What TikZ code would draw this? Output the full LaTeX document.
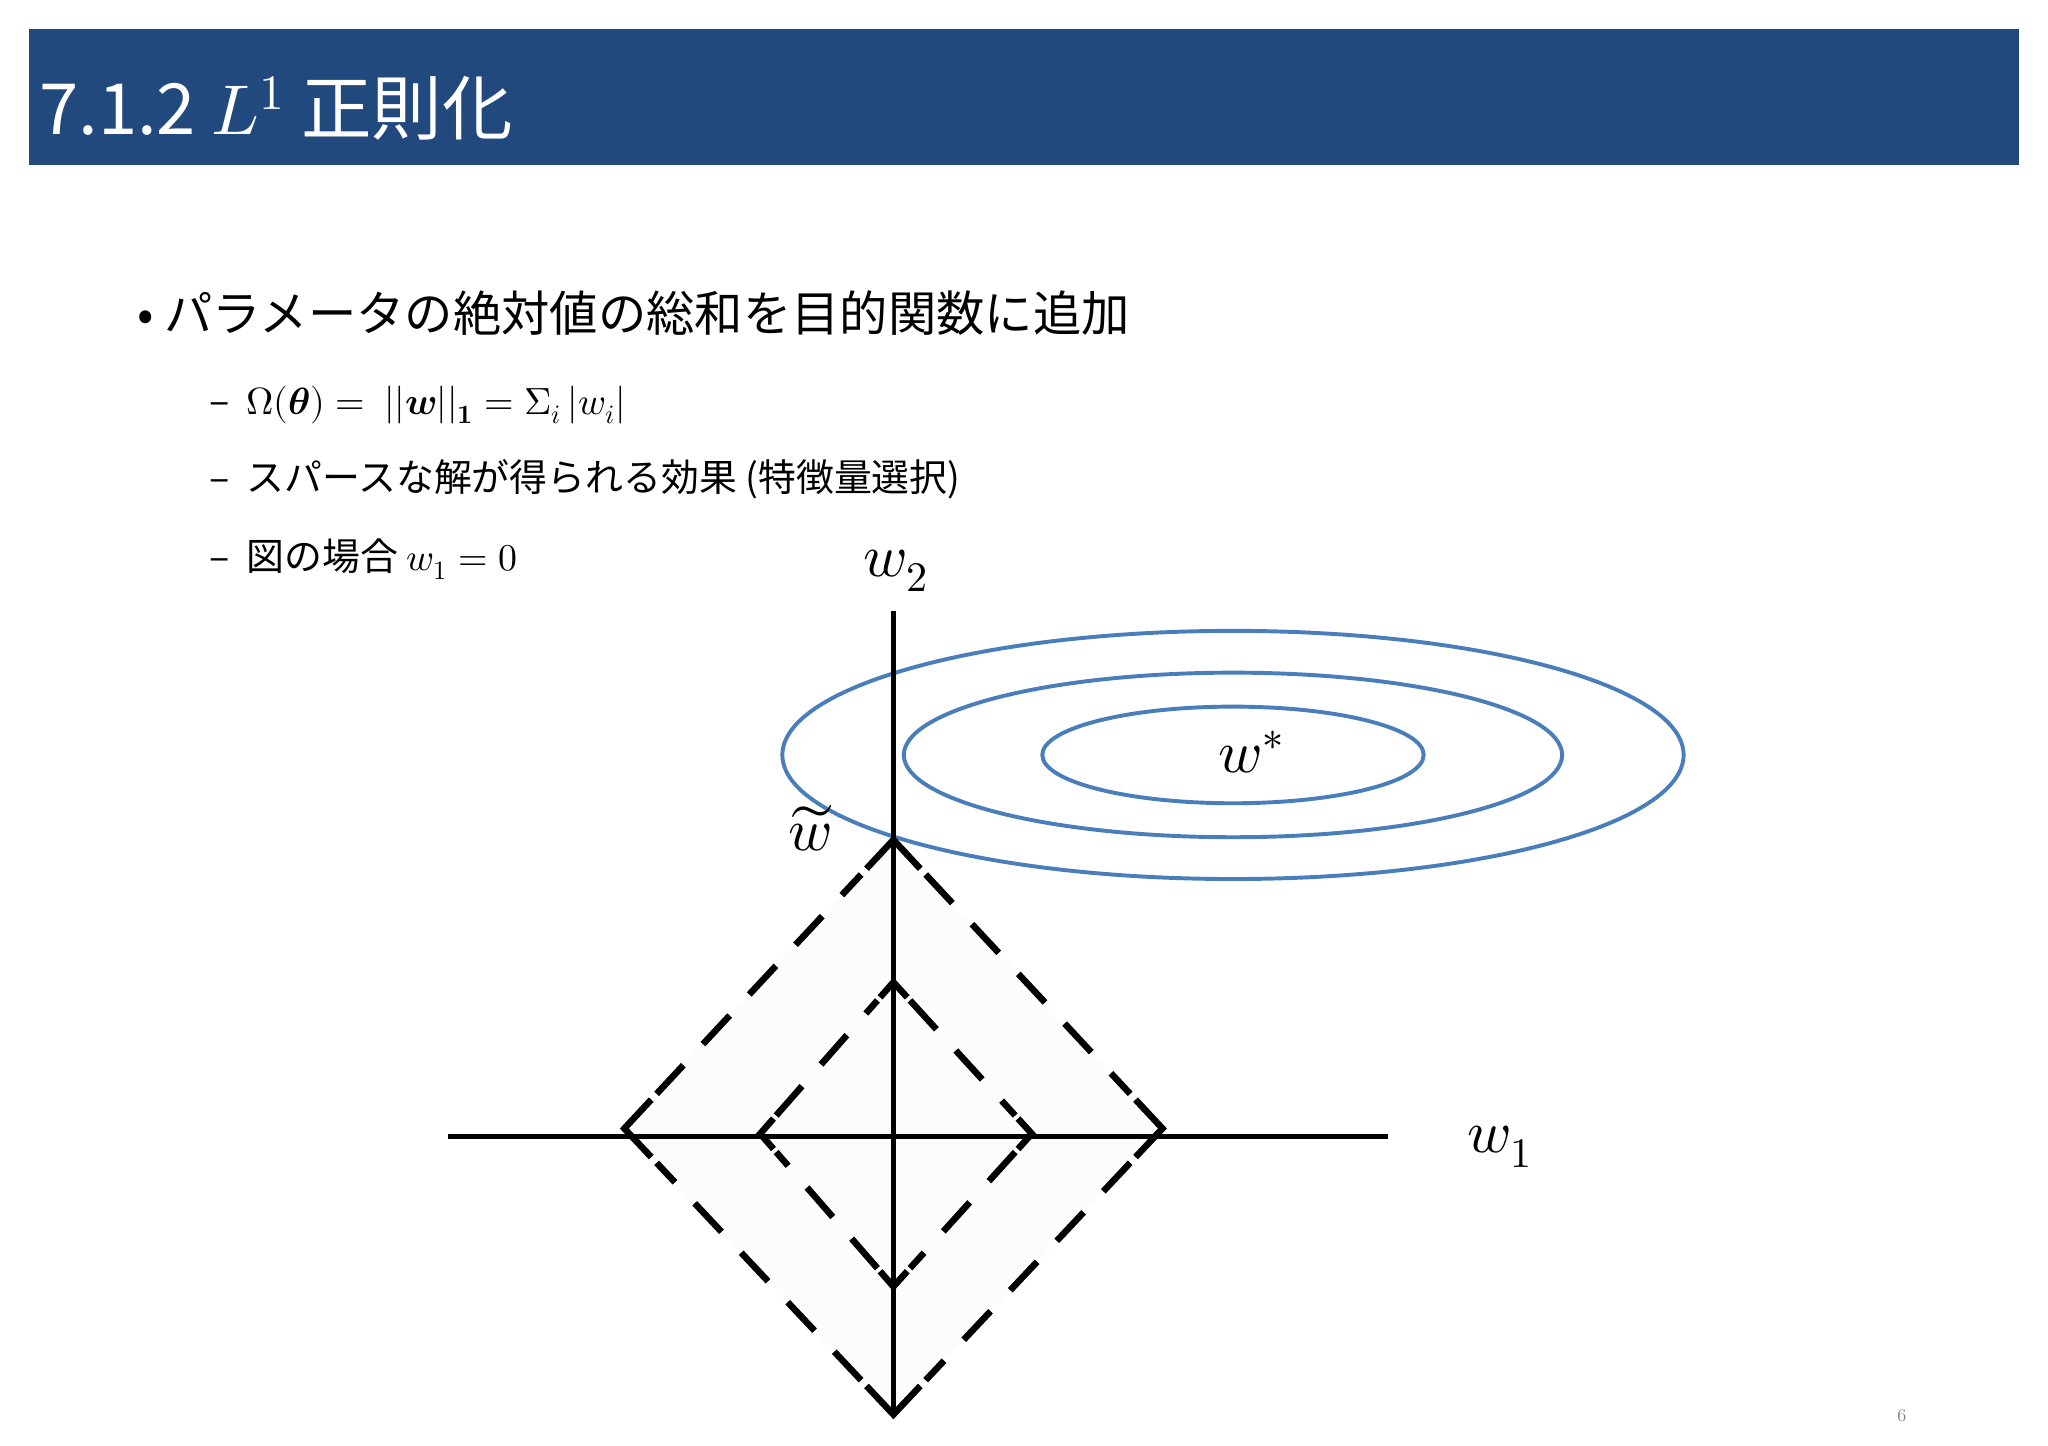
\documentclass[tikz,border=0pt]{standalone}
\usepackage{fontspec}
\usepackage{unicode-math}
\setmathfont{Latin Modern Math}
\usetikzlibrary{calc}
\newfontfamily\jp{Noto Sans CJK JP}
\definecolor{hdr}{HTML}{22497D}
\definecolor{ell}{HTML}{4A7EBB}
\begin{document}
\begin{tikzpicture}[x=1pt,y=-1pt,
  axis/.style={line width=4pt},
  ring/.style={draw=ell,line width=3pt},
  dia/.style={line width=5pt,dash pattern=on 30pt off 22pt},
  chev/.style={line width=5pt},
  lab/.style={inner sep=0pt,anchor=west}]
\useasboundingbox (0,0) rectangle (1568,1107);
\fill[white] (0,0) rectangle (1568,1107);
\fill[hdr] (22,22) rectangle (1546,126);
\node[lab,text=white,font=\jp\fontsize{54}{60}\selectfont] (title) at (30,83) {7.1.2 $L^1$ 正則化};
\node[lab,font=\jp\fontsize{37}{42}\selectfont] (b1) at (105,240) {•\ パラメータの絶対値の総和を目的関数に追加};
\node[lab,font=\jp\fontsize{29}{34}\selectfont] (s1) at (160,310) {–\ \ $\Omega(\symbfit{\theta})=\ ||\symbfit{w}||_{\symbf{1}}=\Sigma_i\,|w_i|$};
\node[lab,font=\jp\fontsize{29}{34}\selectfont] (s2) at (160,367) {–\ \ スパースな解が得られる効果 (特徴量選択)};
\node[lab,font=\jp\fontsize{29}{34}\selectfont] (s3) at (160,428) {–\ \ 図の場合 $w_1=0$};
% faint fill
\fill[gray!2] (684,643) -- (890,864) -- (684,1083) -- (478,864) -- cycle;
% ellipses
\draw[ring] (944,578) ellipse [x radius=345,y radius=95];
\draw[ring] (944,578) ellipse [x radius=252,y radius=63];
\draw[ring] (944,578) ellipse [x radius=146,y radius=37];
% axes
\coordinate (vt) at (684,468); \coordinate (vb) at (684,1085);
\coordinate (hl) at (343,870); \coordinate (hr) at (1063,870);
\draw[axis] (vt) -- (vb);
\draw[axis] (hl) -- (hr);
% diamonds
\coordinate (oT) at (684,643); \coordinate (oR) at (890,864);
\coordinate (oB) at (684,1083); \coordinate (oL) at (478,864);
\coordinate (iT) at (684,752); \coordinate (iR) at (790,868);
\coordinate (iB) at (684,985); \coordinate (iL) at (582,868);
\foreach \a/\b in {oT/oR,oR/oB,oB/oL,oL/oT,iT/iR,iR/iB,iB/iL,iL/iT}
  \draw[dia] ($(\a)!0.12!(\b)$) -- ($(\b)!0.12!(\a)$);
\foreach \p/\a/\b in {oT/oL/oR,oR/oT/oB,oB/oR/oL,oL/oB/oT,iT/iL/iR,iR/iT/iB,iB/iR/iL,iL/iB/iT}
  \draw[chev,line join=miter] ($(\p)!0.1!(\a)$) -- (\p) -- ($(\p)!0.1!(\b)$);
% labels
\node[font=\fontsize{46}{50}\selectfont] (w2) at (686,437) {$w_2$};
\node[font=\fontsize{46}{50}\selectfont] (w1) at (1148,878) {$w_1$};
\node[font=\fontsize{46}{50}\selectfont] (ws) at (958,576) {$w^*$};
\node[font=\fontsize{46}{50}\selectfont] (wt) at (620,634) {$\widetilde{w}$};
\node[text=gray,font=\fontsize{14}{16}\selectfont] (pg) at (1456,1084) {6};
\end{tikzpicture}
\end{document}
